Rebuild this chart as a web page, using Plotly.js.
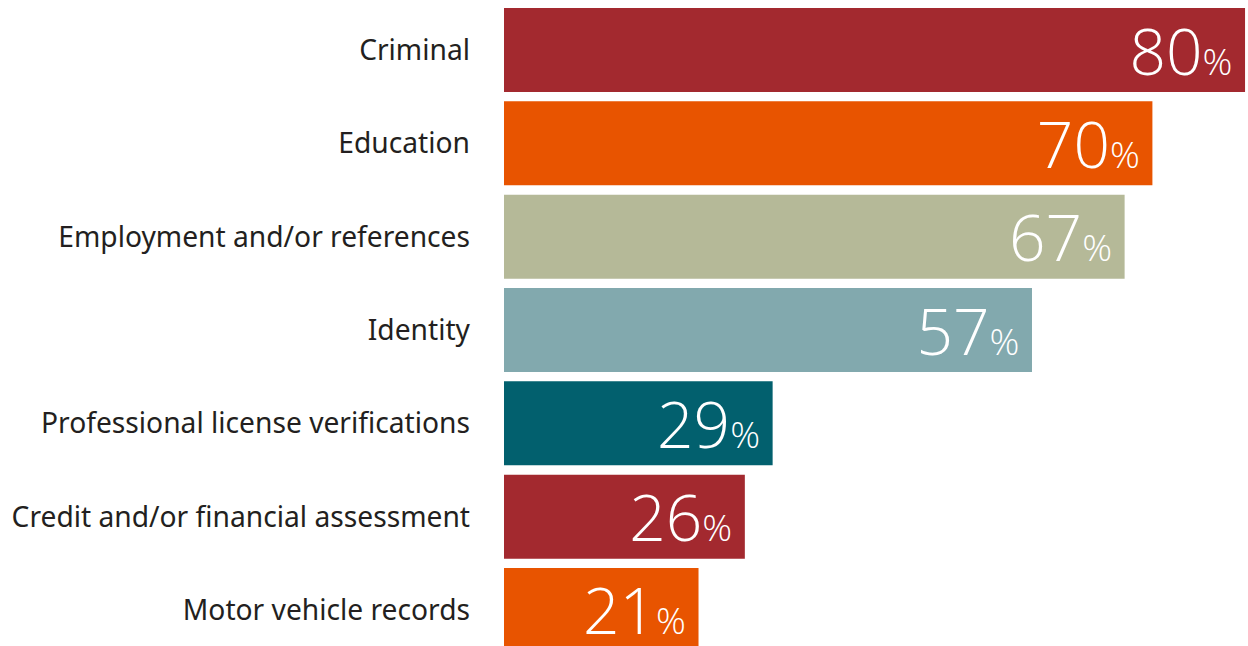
<!DOCTYPE html>
<html>
<head>
<meta charset="utf-8">
<script src="https://cdn.plot.ly/plotly-3.0.1.min.js"></script>
<style>html,body{margin:0;padding:0;background:#fff;}#chart{width:1248px;height:646px;}</style>
</head>
<body>
<div id="chart"></div>
<script>
const categories = [
  "Criminal",
  "Education",
  "Employment and/or references",
  "Identity",
  "Professional license verifications",
  "Credit and/or financial assessment",
  "Motor vehicle records"
];
const values = [80, 70, 67, 57, 29, 26, 21];
const barColors = ["#A3292F", "#E85400", "#B5B998", "#82A9AE", "#02606E", "#A3292F", "#E85400"];

const trace = {
  type: "bar",
  orientation: "h",
  y: categories,
  x: values,
  marker: {color: barColors},
  texttemplate: "%{x}<span style='font-size:37px'>%\u00a0</span>",
  textposition: "inside",
  insidetextanchor: "end",
  constraintext: "none",
  textfont: {family: "Open Sans", size: 64, color: "#ffffff", weight: 300},
  hoverinfo: "none"
};

const layout = {
  width: 1248,
  height: 646,
  margin: {l: 504, r: 0, t: 0, b: 0, pad: 0},
  paper_bgcolor: "#ffffff",
  plot_bgcolor: "#ffffff",
  showlegend: false,
  bargap: 0.1,
  xaxis: {visible: false, range: [0, 80.32], fixedrange: true},
  yaxis: {
    type: "category",
    range: [6.386, -0.536],
    showgrid: false, zeroline: false, showline: false,
    ticks: "",
    ticklabelstandoff: 33,
    tickfont: {family: "Noto Sans", size: 28.2, color: "#231f20"},
    fixedrange: true
  }
};

Plotly.newPlot("chart", [trace], layout, {displayModeBar: false, staticPlot: true});
</script>
</body>
</html>
